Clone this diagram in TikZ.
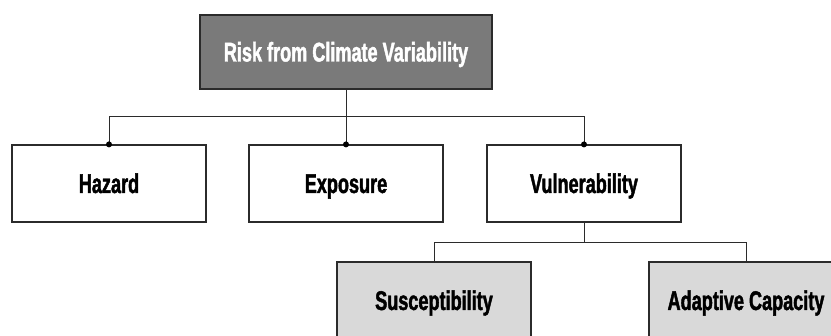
\documentclass[tikz,border=0pt]{standalone}
\usepackage{fontspec}
\setmainfont[FakeStretch=0.67,BoldFeatures={FakeBold=1.6}]{Liberation Sans}
\definecolor{topfill}{HTML}{7A7A7A}
\definecolor{lowfill}{HTML}{D9D9D9}
\definecolor{edge}{HTML}{2B2B2B}
\begin{document}
\begin{tikzpicture}[x=1pt,y=-1pt,
  box/.style={draw=edge,line width=1.2pt,rectangle,minimum width=194pt,minimum height=77pt,inner sep=0pt,
    text height=19pt,text depth=0pt,
    font=\fontsize{27}{32}\selectfont\bfseries,text=black},
  topbox/.style={box,fill=topfill,minimum width=292pt,minimum height=74pt,text=white},
  lowbox/.style={box,fill=lowfill},
  conn/.style={draw=edge,line width=1pt},
  dot/.style={fill=black}]
\useasboundingbox (0,0) rectangle (831,336);
\clip (0,0) rectangle (831,336);
\node[topbox] (top) at (346,52) {Risk from Climate Variability};
\node[box] (haz) at (109,183.5) {Hazard};
\node[box] (exp) at (346,183.5) {Exposure};
\node[box] (vul) at (584,183.5) {Vulnerability};
\node[lowbox] (sus) at (434,300.5) {Susceptibility};
\node[lowbox] (ada) at (746,300.5) {Adaptive Capacity};
\coordinate (j1) at (346,117);
\coordinate (j2) at (584,243);
\draw[conn] (top.south) -- (j1);
\draw[conn] (j1) -| (haz.north);
\draw[conn] (j1) -| (vul.north);
\draw[conn] (j1) -- (exp.north);
\fill[dot] (haz.north) circle (3);
\fill[dot] (exp.north) circle (3);
\fill[dot] (vul.north) circle (3);
\draw[conn] (vul.south) -- (j2);
\draw[conn] (j2) -| (sus.north);
\draw[conn] (j2) -| (ada.north);
\end{tikzpicture}
\end{document}
